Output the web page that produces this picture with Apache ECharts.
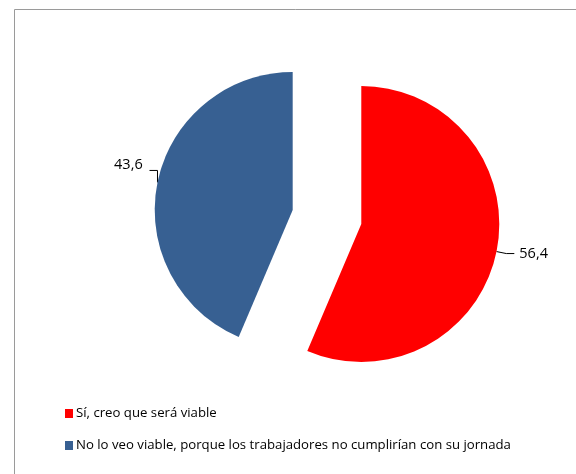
<!DOCTYPE html>
<html><head><meta charset="utf-8">
<script src="https://cdn.jsdelivr.net/npm/echarts@6/dist/echarts.min.js"></script>
<style>html,body{margin:0;padding:0;background:#fff}#c{width:576px;height:474px}</style>
</head><body><div id="c"></div>
<script>
const categories = ["Sí, creo que será viable", "No lo veo viable, porque los trabajadores no cumplirían con su jornada"];
const values = [56.4, 43.6];
const colors = ["#FF0000", "#376092"];

const chart = echarts.init(document.getElementById('c'));
chart.setOption({
  animation: false,
  graphic: [{
    type: 'rect', shape: {x: 14.5, y: 9.5, width: 700, height: 600},
    style: {fill: 'none', stroke: '#9a9a9a', lineWidth: 1}, silent: true
  }],
  legend: {
    orient: 'vertical', left: 60, top: 402, itemWidth: 8, itemHeight: 9, itemGap: 19,
    icon: 'rect', selectedMode: false,
    textStyle: {fontFamily: 'Open Sans', fontSize: 13.2, color: '#000', padding: [0,0,0,-2]},
    data: categories
  },
  series: [{
    type: 'pie', center: [327, 217], radius: 138, startAngle: 90, clockwise: true,
    selectedMode: 'multiple', selectedOffset: 35, avoidLabelOverlap: false,
    label: {show: true, position: 'outside', formatter: p => String(p.value).replace('.', ','),
      fontFamily: 'Open Sans', fontSize: 14.5, color: '#000'},
    labelLine: {show: true, length: 10, length2: 8, lineStyle: {color: '#000', width: 1}},
    labelLayout: function (params) {
      if (params.dataIndex !== 1 || !params.labelLinePoints) return {};
      const p0 = params.labelLinePoints[0];
      const p1 = [p0[0], p0[1] - 12];
      const p2 = [p0[0] - 8, p0[1] - 12];
      return {dx: 8, dy: -16, labelLinePoints: [p0, p1, p2]};
    },
    emphasis: {disabled: true},
    data: categories.map((c, i) => ({name: c, value: values[i], selected: true, itemStyle: {color: colors[i]}}))
  }]
});
</script></body></html>
